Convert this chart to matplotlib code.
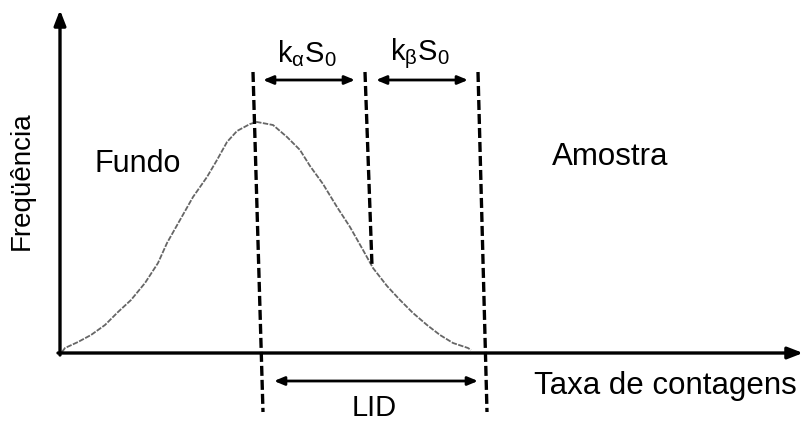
import matplotlib
matplotlib.use("Agg")
import matplotlib.pyplot as plt

plt.rcParams['font.family'] = ['Liberation Sans', 'DejaVu Sans']
plt.rcParams['mathtext.fontset'] = 'custom'
plt.rcParams['mathtext.rm'] = 'Liberation Sans'
plt.rcParams['mathtext.it'] = 'Liberation Sans'

# Background distribution curve (pixel-like units, y downward)
curve_x = [62, 65, 78, 91, 105, 118, 131, 145, 158, 167, 180, 193, 207, 217,
           227, 237, 250, 257, 273, 287, 300, 310, 323, 337, 350, 363, 373,
           387, 400, 413, 427, 440, 453, 468, 471]
curve_y = [352, 348, 342, 335, 325, 312, 300, 283, 263, 243, 220, 197, 177, 160,
           142, 131, 124, 122, 125, 137, 150, 166, 184, 207, 227, 250, 268,
           286, 300, 313, 325, 335, 343, 348, 350]

# Dashed vertical markers: (x_top, y_top, x_bottom, y_bottom)
dash_top_x = [253, 365, 478]
dash_top_y = [72, 72, 72]
dash_bot_x = [263, 372, 487]
dash_bot_y = [412, 266, 412]

# Double arrows: (x0, x1, y)
arrow_x0 = [263, 376, 274]
arrow_x1 = [355, 468, 478]
arrow_y = [80, 80, 381]
arrow_labels = [r'$\mathregular{k_{\alpha}S_{0}}$', r'$\mathregular{k_{\beta}S_{0}}$', 'LID']
label_pos = [(307, 54), (420, 54), (374, 408)]

fig = plt.figure(figsize=(8.03, 4.21), dpi=100)
ax = fig.add_axes([0, 0, 1, 1])
ax.set_xlim(0, 803)
ax.set_ylim(421, 0)
ax.axis('off')

# Axes with arrows
ax.annotate('', xy=(60, 10), xytext=(60, 355),
            arrowprops=dict(arrowstyle='-|>,head_length=0.9,head_width=0.35',
                            lw=2.4, color='black', shrinkA=0, shrinkB=0))
ax.annotate('', xy=(803, 353), xytext=(58, 353),
            arrowprops=dict(arrowstyle='-|>,head_length=0.9,head_width=0.35',
                            lw=2.4, color='black', shrinkA=0, shrinkB=0))

# Curve
ax.plot(curve_x, curve_y, color='#666666', lw=1.3, ls=(0, (3, 0.8)),
        solid_joinstyle='round', dash_joinstyle='round')

# Dashed markers
for xt, yt, xb, yb in zip(dash_top_x, dash_top_y, dash_bot_x, dash_bot_y):
    ax.plot([xt, xb], [yt, yb], color='black', lw=2.4, ls=(0, (3.0, 1.2)))

# Double arrows
for x0, x1, y in zip(arrow_x0, arrow_x1, arrow_y):
    ax.annotate('', xy=(x1, y), xytext=(x0, y),
                arrowprops=dict(arrowstyle='<|-|>,head_length=0.6,head_width=0.25',
                                lw=2.0, color='black', shrinkA=0, shrinkB=0))

for lab, (lx, ly) in zip(arrow_labels, label_pos):
    ax.text(lx, ly, lab, fontsize=21, ha='center', va='center')

ax.text(138, 164, 'Fundo', fontsize=22, ha='center', va='center')
ax.text(610, 157, 'Amostra', fontsize=22.5, ha='center', va='center')
ax.text(665, 386, 'Taxa de contagens', fontsize=22.5, ha='center', va='center')
ax.text(22, 181, 'Freqüência', fontsize=20, ha='center', va='center', rotation=90)

fig.savefig('out.png', dpi=100)
